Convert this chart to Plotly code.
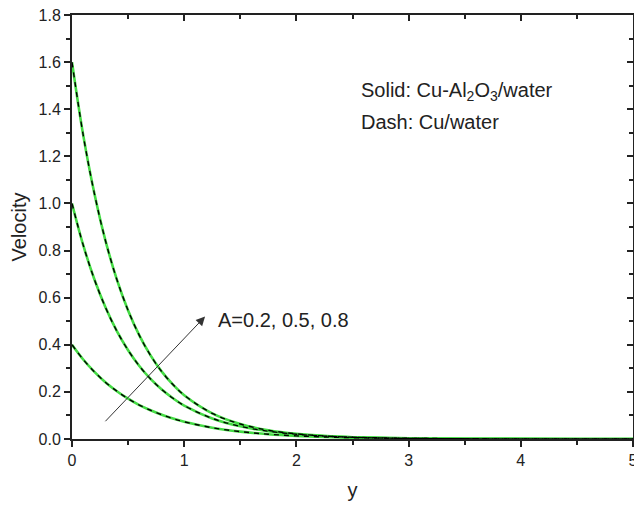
import plotly.graph_objects as go

# ---- data
y_pos = [0, 0.1, 0.2, 0.3, 0.4, 0.5, 0.6, 0.7, 0.8, 0.9, 1.0,
         1.25, 1.5, 1.75, 2.0, 2.25, 2.5, 2.75, 3.0, 3.5, 4.0, 4.5, 5.0]

# A = 0.2
vel_a02 = [0.4, 0.3375, 0.285, 0.240, 0.203, 0.171, 0.144, 0.122, 0.103, 0.0867, 0.0731,
           0.0478, 0.0312, 0.0204, 0.0134, 0.0087, 0.0057, 0.0037, 0.0024, 0.0010, 0.00045, 0.0002, 0.00008]
# A = 0.5
vel_a05 = [1.0, 0.823, 0.677, 0.557, 0.458, 0.377, 0.310, 0.255, 0.210, 0.173, 0.142,
           0.0874, 0.0537, 0.033, 0.0202, 0.0124, 0.0076, 0.0047, 0.0029, 0.0011, 0.0004, 0.00015, 0.00006]
# A = 0.8
vel_a08 = [1.6, 1.290, 1.041, 0.839, 0.677, 0.546, 0.440, 0.355, 0.286, 0.231, 0.186,
           0.109, 0.0636, 0.0371, 0.0217, 0.0127, 0.0074, 0.0043, 0.0025, 0.00086, 0.0003, 0.0001, 0.00003]

# Cu/water (dash) lies on top of the hybrid curves
vel_cu_a02 = vel_a02
vel_cu_a05 = vel_a05
vel_cu_a08 = vel_a08

x_ticks = [0, 1, 2, 3, 4, 5]
y_ticks = [0.0, 0.2, 0.4, 0.6, 0.8, 1.0, 1.2, 1.4, 1.6, 1.8]
y_tick_text = ["0.0", "0.2", "0.4", "0.6", "0.8", "1.0", "1.2", "1.4", "1.6", "1.8"]

green = "#44dc44"
font_nm = "Liberation Sans, Arial, sans-serif"
txtcol = "#222222"

fig = go.Figure()

# solid: Cu-Al2O3/water
for v in [vel_a02, vel_a05, vel_a08]:
    fig.add_trace(go.Scatter(x=y_pos, y=v, mode="lines", line_shape="spline",
                             line=dict(color=green, width=2.6), showlegend=False, hoverinfo="skip"))

# dash: Cu/water
for v in [vel_cu_a02, vel_cu_a05, vel_cu_a08]:
    fig.add_trace(go.Scatter(x=y_pos, y=v, mode="lines", line_shape="spline",
                             line=dict(color="black", width=1.4, dash="5px,5px"),
                             showlegend=False, hoverinfo="skip"))

# invisible trace so the mirror axes (top/right, ticks inside) get drawn
fig.add_trace(go.Scatter(x=[0], y=[0], xaxis="x2", yaxis="y2", mode="markers",
                         marker=dict(opacity=0), showlegend=False, hoverinfo="skip"))

axcol = "#222222"
yr = [0, 1.8001]
# page body has an 8px margin, so the figure is sized/offset to put the frame where the reference has it
fig.update_layout(
    width=626, height=493,
    margin=dict(l=64, r=1, t=7, b=62),
    paper_bgcolor="white", plot_bgcolor="white",
    font=dict(family=font_nm, size=15, color=txtcol),
    xaxis=dict(range=[0, 5], tickvals=x_ticks, showgrid=False, zeroline=False, automargin=False,
               showline=True, linecolor=axcol, linewidth=2, ticklabeloverflow="allow",
               ticks="outside", ticklen=6, tickwidth=2, tickcolor=axcol,
               minor=dict(dtick=0.5, ticks="outside", ticklen=4, tickwidth=2, tickcolor=axcol),
               title=dict(text="y", font=dict(size=20), standoff=20),
               tickfont=dict(size=16)),
    yaxis=dict(range=yr, tickvals=y_ticks, ticktext=y_tick_text, automargin=False,
               showgrid=False, zeroline=False, ticklabeloverflow="allow",
               showline=True, linecolor=axcol, linewidth=2,
               ticks="outside", ticklen=6, tickwidth=2, tickcolor=axcol,
               minor=dict(dtick=0.1, ticks="outside", ticklen=4, tickwidth=2, tickcolor=axcol),
               title=dict(text="Velocity", font=dict(size=20), standoff=16),
               tickfont=dict(size=16)),
    xaxis2=dict(range=[0, 5], overlaying="x", side="top", anchor="y", tickvals=x_ticks,
                showticklabels=False, showgrid=False, zeroline=False, automargin=False,
                showline=True, linecolor=axcol, linewidth=2,
                ticks="inside", ticklen=6, tickwidth=2, tickcolor=axcol,
                minor=dict(dtick=0.5, ticks="inside", ticklen=4, tickwidth=2, tickcolor=axcol)),
    yaxis2=dict(range=yr, overlaying="y", side="right", anchor="x", tickvals=y_ticks,
                showticklabels=False, showgrid=False, zeroline=False, automargin=False,
                showline=True, linecolor=axcol, linewidth=2,
                ticks="inside", ticklen=6, tickwidth=2, tickcolor=axcol,
                minor=dict(dtick=0.1, ticks="inside", ticklen=4, tickwidth=2, tickcolor=axcol)),
)

# arrow showing increasing A
fig.add_annotation(x=1.186, y=0.52, ax=0.285, ay=0.069, xref="x", yref="y",
                   axref="x", ayref="y", text="", showarrow=True,
                   arrowhead=2, arrowsize=1.8, arrowwidth=1, arrowcolor="#333333")
fig.add_annotation(x=1.279, y=0.506, xref="x", yref="y", text="A=0.2, 0.5, 0.8",
                   showarrow=False, xanchor="left", yanchor="middle",
                   font=dict(size=20, color=txtcol))

fig.add_annotation(x=2.554, y=1.477, xref="x", yref="y",
                   text="Solid: Cu-Al<sub>2</sub>O<sub>3</sub>/water",
                   showarrow=False, xanchor="left", yanchor="middle",
                   font=dict(size=20, color=txtcol))
fig.add_annotation(x=2.554, y=1.345, xref="x", yref="y", text="Dash: Cu/water",
                   showarrow=False, xanchor="left", yanchor="middle",
                   font=dict(size=20, color=txtcol))

fig.write_html("out.html")
